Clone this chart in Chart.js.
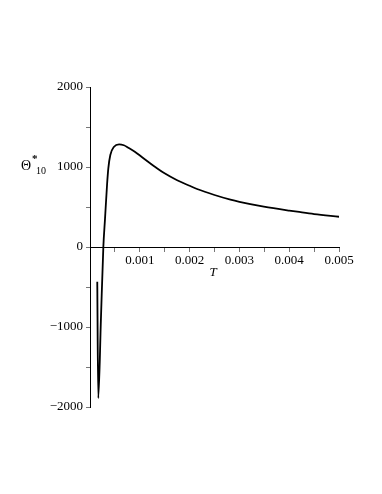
<!DOCTYPE html>
<html><head><meta charset="utf-8">
<script src="https://cdn.jsdelivr.net/npm/chart.js@4/dist/chart.umd.min.js"></script>
<style>html,body{margin:0;padding:0;background:#fff}#w{width:382px;height:494px}</style>
</head><body><div id="w"><canvas id="c"></canvas></div>
<script>
const T = [0.000146,0.000166,0.00022,0.000268,0.000302,0.000342,0.000368,0.000408,0.000483,0.000584,0.00068,0.00077,0.00090,0.00104,0.00120,0.00131,0.00148,0.00175,0.0020,0.00215,0.0025,0.00282,0.0030,0.00349,0.0040,0.00416,0.0045,0.0050];
const theta = [-434,-1890,-889,0,358,775,983,1150,1254,1284,1272,1240,1190,1125,1050,1000,928,835,765,725,650,592,565,505,455,441,412,378];
const yTicks = [-2000,-1000,0,1000,2000];
const xTicks = [0.001,0.002,0.003,0.004,0.005];
const font = "'Liberation Serif', serif";

const titles = {
  id:'titles',
  afterDraw(chart){
    const ctx = chart.ctx; ctx.save(); ctx.fillStyle='#000';
    ctx.textAlign='center'; ctx.textBaseline='middle';
    ctx.font = "italic 13px " + font;
    ctx.fillText('T', 213, 273);
    ctx.textAlign='left';
    ctx.font = "14px " + font;
    ctx.fillText('Θ', 21, 166);
    ctx.font = "bold 11px " + font;
    ctx.fillText('*', 32, 159);
    ctx.font = "10px " + font;
    ctx.fillText('10', 36, 171);
    ctx.restore();
  }
};

new Chart(document.getElementById('c'), {
  type:'scatter',
  data:{datasets:[{data:T.map((t,i)=>({x:t,y:theta[i]})), showLine:true, borderColor:'#000', borderWidth:1.8, pointRadius:0, cubicInterpolationMode:'monotone', fill:false}]},
  options:{
    responsive:true, maintainAspectRatio:false, animation:false,
    layout:{padding:{left:0,right:43,top:87,bottom:87}},
    plugins:{legend:{display:false},tooltip:{enabled:false}},
    scales:{
      x:{type:'linear', position:{y:0}, min:0, max:0.005,
        border:{color:'#000',width:1},
        grid:{drawOnChartArea:false, drawTicks:true, tickLength:4, color:'#777'},
        ticks:{stepSize:0.0005, autoSkip:false, maxRotation:0, color:'#000', font:{family:font,size:13}, padding:2,
          callback:(v)=>{const m=xTicks.find(t=>Math.abs(t-v)<1e-9);return m!==undefined? String(m):'';}}
      },
      y:{type:'linear', position:'left', min:-2000, max:2000,
        afterFit:(s)=>{s.width=90;},
        border:{color:'#000',width:1},
        grid:{drawOnChartArea:false, drawTicks:true, tickLength:4, color:'#777'},
        ticks:{stepSize:500, autoSkip:false, color:'#000', font:{family:font,size:13}, padding:3,
          callback:(v)=>yTicks.includes(v)? (v<0? '\u2212'+Math.abs(v): String(v)) : ''}
      }
    }
  },
  plugins:[titles]
});
</script></body></html>
